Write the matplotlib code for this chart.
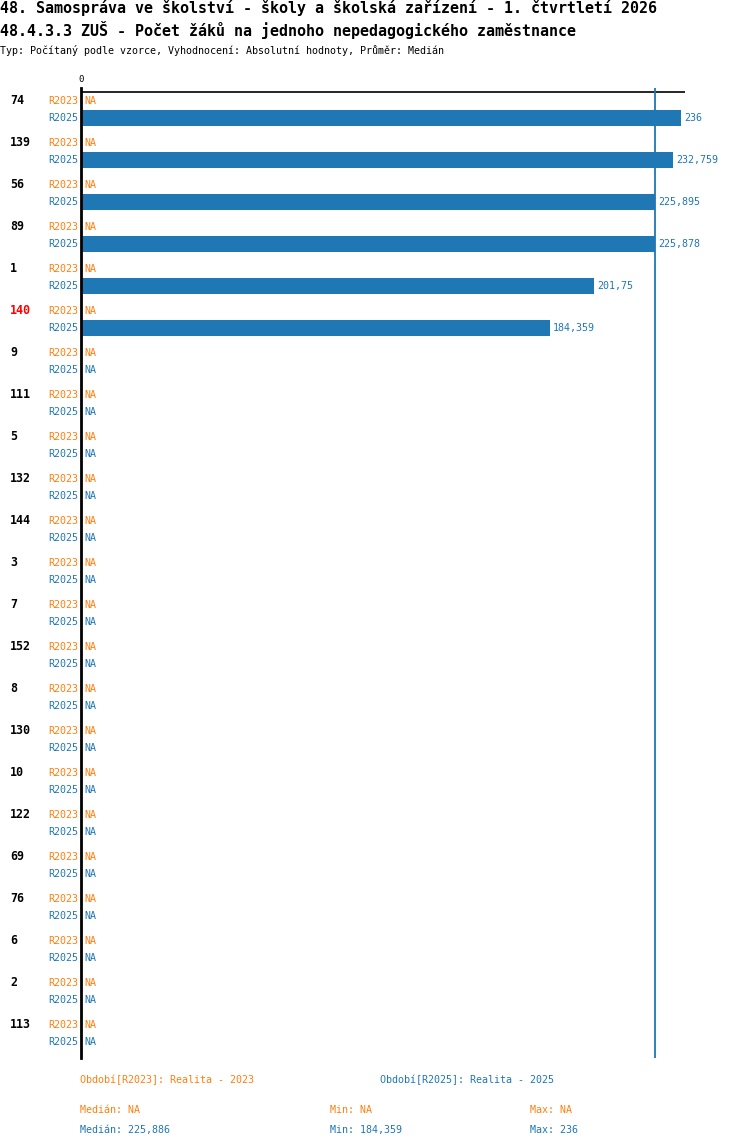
import matplotlib
matplotlib.use("Agg")
import matplotlib.pyplot as plt
import matplotlib.transforms as mtransforms
import numpy as np

# data
ids = [74, 139, 56, 89, 1, 140, 9, 111, 5, 132, 144, 3, 7, 152, 8, 130, 10, 122, 69, 76, 6, 2, 113]
r2023 = [None] * len(ids)
r2025 = [236, 232.759, 225.895, 225.878, 201.75, 184.359] + [None] * 17
highlight = 140

title1 = "48. Samospráva ve školství - školy a školská zařízení - 1. čtvrtletí 2026"
title2 = "48.4.3.3 ZUŠ - Počet žáků na jednoho nepedagogického zaměstnance"
subtitle = "Typ: Počítaný podle vzorce, Vyhodnocení: Absolutní hodnoty, Průměr: Medián"
periods = ["R2023", "R2025"]
period_names = ["Období[R2023]: Realita - 2023", "Období[R2025]: Realita - 2025"]

ORANGE = "#ff7f0e"
BLUE = "#1f77b4"
FONT = "DejaVu Sans Mono"
W, H = 750, 1148


def fmt(v):
    if v is None:
        return "NA"
    v = np.floor(v * 1000 + 1e-6) / 1000
    s = ("%.3f" % v).rstrip("0").rstrip(".")
    return s.replace(".", ",")


fig = plt.figure(figsize=(W / 100, H / 100), dpi=100)
fig.patch.set_facecolor("white")

# axes in pixel layout
ax_left, ax_right, ax_top, ax_bot = 81, 685, 88, 1058
ax = fig.add_axes([ax_left / W, (H - ax_bot) / H, (ax_right - ax_left) / W, (ax_bot - ax_top) / H])
xmax = 236 * (ax_right - ax_left) / 600
ax.set_xlim(0, xmax)
ax.set_ylim(ax_bot - ax_top, 0)
for s in ["top", "right", "bottom"]:
    ax.spines[s].set_visible(False)
ax.spines["left"].set_linewidth(2)
ax.spines["left"].set_color("black")
ax.set_xticks([])
ax.set_yticks([])

ax.axhline(4, color="black", lw=1.2)
vals = [v for v in r2025 if v is not None]
med = float(np.median(vals))
ax.axvline(med, color=BLUE, lw=1.3)

trans_left = mtransforms.blended_transform_factory(fig.transFigure, ax.transData)

for i, gid in enumerate(ids):
    y23 = 13 + 42 * i
    y25 = 30 + 42 * i
    ax.text(10 / W, y23, str(gid), transform=trans_left, family=FONT, fontsize=8.4,
            fontweight="bold", color="red" if gid == highlight else "black", va="center", ha="left")
    ax.text(78 / W, y23, periods[0], transform=trans_left, family=FONT, fontsize=7.2,
            color=ORANGE, va="center", ha="right")
    ax.text(78 / W, y25, periods[1], transform=trans_left, family=FONT, fontsize=7.2,
            color=BLUE, va="center", ha="right")
    for y, v, c in [(y23, r2023[i], ORANGE), (y25, r2025[i], BLUE)]:
        if v is not None:
            ax.barh(y, v, height=16, color=c, left=0)
            ax.annotate(fmt(v), (v, y), xytext=(3, 0), textcoords="offset pixels",
                        family=FONT, fontsize=7.2, color=c, va="center", ha="left")
        else:
            ax.annotate("NA", (0, y), xytext=(3, 0), textcoords="offset pixels",
                        family=FONT, fontsize=7.2, color=c, va="center", ha="left")

ax.annotate("0", (0, 0), xytext=(0, 8), textcoords="offset pixels", family=FONT,
            fontsize=6.5, ha="center", va="center", annotation_clip=False)

# header
fig.text(0, 1 - 8 / H, title1, family=FONT, fontsize=10.8, fontweight="bold", va="center", ha="left")
fig.text(0, 1 - 30 / H, title2, family=FONT, fontsize=10.8, fontweight="bold", va="center", ha="left")
fig.text(0, 1 - 50 / H, subtitle, family=FONT, fontsize=7.2, va="center", ha="left")

# footer
fig.text(80 / W, 1 - 1080 / H, period_names[0], family=FONT, fontsize=7.2, color=ORANGE, va="center")
fig.text(380 / W, 1 - 1080 / H, period_names[1], family=FONT, fontsize=7.2, color=BLUE, va="center")

for series, c, yy in [(r2023, ORANGE, 1110), (r2025, BLUE, 1130)]:
    vv = [v for v in series if v is not None]
    if vv:
        m, lo, hi = float(np.median(vv)), min(vv), max(vv)
    else:
        m = lo = hi = None
    fig.text(80 / W, 1 - yy / H, "Medián: " + fmt(m), family=FONT, fontsize=7.2, color=c, va="center")
    fig.text(330 / W, 1 - yy / H, "Min: " + fmt(lo), family=FONT, fontsize=7.2, color=c, va="center")
    fig.text(530 / W, 1 - yy / H, "Max: " + fmt(hi), family=FONT, fontsize=7.2, color=c, va="center")

fig.savefig("out.png", dpi=100)
